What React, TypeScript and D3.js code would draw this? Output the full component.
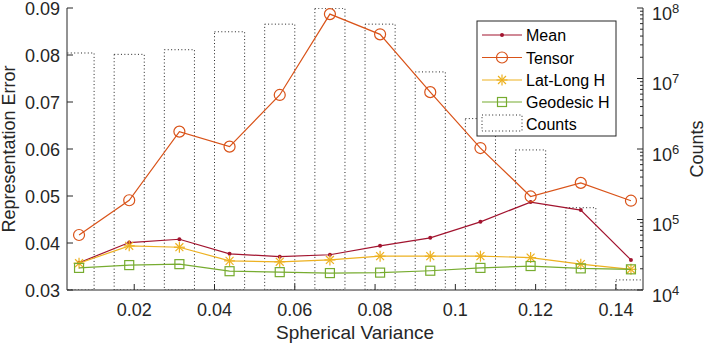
import * as d3 from 'd3'

const variance = [0.00625, 0.01875, 0.03125, 0.04375, 0.05625, 0.06875, 0.08125, 0.09375, 0.10625, 0.11875, 0.13125, 0.14375]
const meanErr = [0.0358, 0.0401, 0.0408, 0.0377, 0.0371, 0.0375, 0.0394, 0.0411, 0.0445, 0.0487, 0.0470, 0.0364]
const tensorErr = [0.0417, 0.0491, 0.0637, 0.0605, 0.0715, 0.0887, 0.0844, 0.0721, 0.0602, 0.0499, 0.0528, 0.0490]
const latLongErr = [0.0357, 0.0394, 0.0391, 0.0362, 0.0360, 0.0364, 0.0372, 0.0372, 0.0372, 0.0369, 0.0355, 0.0344]
const geodesicErr = [0.0347, 0.0353, 0.0355, 0.0340, 0.0338, 0.0336, 0.0337, 0.0341, 0.0347, 0.0351, 0.0346, 0.0344]
const counts = [2.3e7, 2.2e7, 2.56e7, 4.6e7, 5.9e7, 9.9e7, 5.9e7, 1.24e7, 2.7e6, 9.7e5, 1.47e5, 1.39e4]

const xTicks = [0.02, 0.04, 0.06, 0.08, 0.1, 0.12, 0.14]
const yTicks = [0.03, 0.04, 0.05, 0.06, 0.07, 0.08, 0.09]
const countExps = [4, 5, 6, 7, 8]

const W = 706
const H = 347
const left = 67
const right = 643
const top = 8
const bottom = 290
const FONT = 'Liberation Sans, Arial, Helvetica, sans-serif'

const C_MEAN = '#A2142F'
const C_TENSOR = '#D95319'
const C_LAT = '#EDB120'
const C_GEO = '#77AC30'

function Marker({ kind, x, y, color }: { kind: string; x: number; y: number; color: string }) {
  if (kind === 'dot') return <circle cx={x} cy={y} r={2} fill={color} />
  if (kind === 'circle') return <circle cx={x} cy={y} r={5.5} fill="none" stroke={color} strokeWidth={1.2} />
  if (kind === 'square') return <rect x={x - 4.5} y={y - 4.5} width={9} height={9} fill="none" stroke={color} strokeWidth={1.2} />
  const s = 5.5
  const d = s * 0.72
  return (
    <g stroke={color} strokeWidth={1.2}>
      <line x1={x - s} x2={x + s} y1={y} y2={y} />
      <line x1={x} x2={x} y1={y - s} y2={y + s} />
      <line x1={x - d} x2={x + d} y1={y - d} y2={y + d} />
      <line x1={x - d} x2={x + d} y1={y + d} y2={y - d} />
    </g>
  )
}

export default function App() {
  const x = d3.scaleLinear().domain([0.00325, 0.14675]).range([left, right])
  const y = d3.scaleLinear().domain([0.03, 0.09]).range([bottom, top])
  const yc = d3.scaleLog().domain([1e4, 1e8]).range([bottom, top])
  const barW = x(0.0075) - x(0)

  const series = [
    { name: 'Mean', values: meanErr, color: C_MEAN, kind: 'dot' },
    { name: 'Tensor', values: tensorErr, color: C_TENSOR, kind: 'circle' },
    { name: 'Lat-Long H', values: latLongErr, color: C_LAT, kind: 'star' },
    { name: 'Geodesic H', values: geodesicErr, color: C_GEO, kind: 'square' },
  ]

  const line = d3.line<number>().x((_, i) => x(variance[i])).y((d) => y(d))
  const minorTicks = yc.ticks().filter((t) => !countExps.some((e) => Math.abs(t - Math.pow(10, e)) < 1e-6))

  const lx = 477
  const ly = 21
  const lw = 139
  const lh = 115
  const rowY = [35, 57.5, 80, 102, 124]

  return (
    <svg width={W} height={H} style={{ position: 'absolute', left: 0, top: 0, background: '#fff' }} fontFamily={FONT}>
      <defs>
        <clipPath id="plot">
          <rect x={left} y={top} width={right - left} height={bottom - top} />
        </clipPath>
      </defs>

      {/* count bars */}
      <g clipPath="url(#plot)">
        {counts.map((c, i) => (
          <rect
            key={i}
            x={x(variance[i]) - barW / 2}
            y={yc(c)}
            width={barW}
            height={bottom - yc(c)}
            fill="none"
            stroke="#222"
            strokeWidth={1}
            strokeDasharray="1 2.4"
          />
        ))}
      </g>

      {/* error lines */}
      {series.map((s) => (
        <g key={s.name}>
          <path d={line(s.values) || ''} fill="none" stroke={s.color} strokeWidth={1.2} />
          {s.values.map((v, i) => (
            <Marker key={i} kind={s.kind} x={x(variance[i])} y={y(v)} color={s.color} />
          ))}
        </g>
      ))}

      {/* axes */}
      <g stroke="#262626" strokeWidth={1} fill="none">
        <line x1={left} x2={left} y1={top} y2={bottom} />
        <line x1={left} x2={right} y1={bottom} y2={bottom} />
        <line x1={right} x2={right} y1={top} y2={bottom} />
        {yTicks.map((t) => (
          <line key={t} x1={left} x2={left + 6} y1={y(t)} y2={y(t)} />
        ))}
        {xTicks.map((t) => (
          <line key={t} x1={x(t)} x2={x(t)} y1={bottom} y2={bottom - 6} />
        ))}
        {countExps.map((e) => (
          <line key={e} x1={right} x2={right - 6} y1={yc(Math.pow(10, e))} y2={yc(Math.pow(10, e))} />
        ))}
        {minorTicks.map((t, i) => (
          <line key={i} x1={right} x2={right - 3} y1={yc(t)} y2={yc(t)} />
        ))}
      </g>

      <g fontSize={18} fill="#262626">
        {yTicks.map((t) => (
          <text key={t} x={left - 7} y={y(t) + 6.5} textAnchor="end">
            {t.toFixed(2)}
          </text>
        ))}
        {xTicks.map((t) => (
          <text key={t} x={x(t)} y={316} textAnchor="middle">
            {d3.format('~g')(t)}
          </text>
        ))}
        {countExps.map((e) => (
          <text key={e} x={652} y={yc(Math.pow(10, e)) + 11.5}>
            10
            <tspan fontSize={13} dy={-7}>
              {e}
            </tspan>
          </text>
        ))}
        <text x={(left + right) / 2} y={339} textAnchor="middle" fontSize={19}>
          Spherical Variance
        </text>
        <text transform={`translate(15,${(top + bottom) / 2}) rotate(-90)`} textAnchor="middle">
          Representation Error
        </text>
        <text transform={`translate(703,${(top + bottom) / 2}) rotate(-90)`} textAnchor="middle">
          Counts
        </text>
      </g>

      {/* legend */}
      <g>
        <rect x={lx} y={ly} width={lw} height={lh} fill="#fff" stroke="#262626" strokeWidth={1} />
        {series.map((s, i) => (
          <g key={s.name}>
            <line x1={482} x2={522} y1={rowY[i]} y2={rowY[i]} stroke={s.color} strokeWidth={1.2} />
            <Marker kind={s.kind} x={502} y={rowY[i]} color={s.color} />
            <text x={526} y={rowY[i] + 6} fontSize={16} fill="#000">
              {s.name}
            </text>
          </g>
        ))}
        <rect x={482} y={115} width={40} height={16} fill="none" stroke="#222" strokeDasharray="1 2.4" />
        <text x={526} y={rowY[4] + 6} fontSize={16} fill="#000">
          Counts
        </text>
      </g>
    </svg>
  )
}
